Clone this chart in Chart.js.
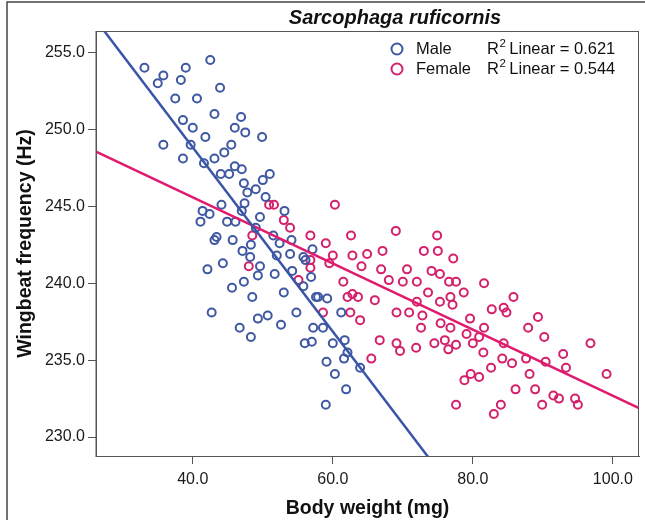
<!DOCTYPE html>
<html>
<head>
<meta charset="utf-8">
<title>Sarcophaga ruficornis</title>
<script src="https://cdn.jsdelivr.net/npm/chart.js@4.4.1/dist/chart.umd.min.js"></script>
<style>
  html, body { margin: 0; padding: 0; background: #fff; }
  #wrap { width: 645px; height: 520px; }
</style>
</head>
<body>
<div id="wrap"><canvas id="wingChart" width="645" height="520"></canvas></div>
<script>
// Datos (peso corporal en mg, frecuencia en Hz)
const maleWeight = [33.1, 35.8, 35.0, 39.0, 38.3, 42.5, 43.9, 37.5, 40.6, 43.1, 46.9, 38.6, 40.0, 46.0, 47.5, 41.8, 49.9, 35.8, 39.7, 45.5,
  44.5, 38.6, 43.1, 41.6, 46.0, 47.0, 44.0, 45.2, 51.0, 50.0, 47.3, 49.0, 47.8, 50.4, 47.4, 44.1, 41.4, 42.4, 47.0, 49.6,
  41.1, 44.9, 46.1, 53.1, 49.0, 51.5, 43.4, 43.1, 45.7, 48.3, 52.4, 54.1, 47.1, 48.2, 52.0, 53.9, 57.1, 55.8, 56.1, 42.1,
  44.3, 49.6, 49.3, 51.7, 54.2, 56.9, 47.3, 45.6, 55.8, 53.0, 48.5, 57.6, 57.9, 59.2, 61.2, 54.8, 42.7, 50.7, 49.3, 52.6,
  46.7, 57.2, 58.6, 48.3, 56.0, 57.0, 60.0, 61.7, 62.1, 61.6, 59.1, 63.9, 60.3, 61.9, 59.0];
const maleFreq = [254.0, 253.5, 253.0, 254.0, 253.2, 254.5, 252.7, 252.0, 252.0, 251.0, 250.8, 250.6, 250.1, 250.1, 249.8, 249.5, 249.5, 249.0, 249.0, 249.0,
  248.5, 248.1, 248.1, 247.8, 247.6, 247.4, 247.1, 247.1, 247.1, 246.7, 246.5, 246.1, 245.9, 245.6, 245.2, 245.1, 244.7, 244.5, 244.7, 244.3,
  244.0, 244.0, 244.0, 244.7, 243.6, 243.1, 243.0, 242.8, 242.8, 242.5, 242.6, 242.8, 242.1, 241.7, 241.8, 241.9, 242.2, 241.7, 241.5, 240.9,
  241.3, 241.1, 240.5, 240.6, 240.8, 240.4, 240.1, 239.7, 239.8, 239.4, 239.1, 239.1, 239.1, 239.0, 238.1, 238.1, 238.1, 237.9, 237.7, 237.3,
  237.1, 237.1, 237.1, 236.5, 236.1, 236.2, 236.1, 236.3, 235.5, 235.1, 234.9, 234.5, 234.1, 233.1, 232.1];

const femaleWeight = [50.9, 51.6, 60.3, 53.0, 53.9, 48.5, 56.8, 62.6, 69.0, 59.0, 56.8, 60.0, 62.8, 64.9, 67.1, 73.0, 48.0, 56.8, 59.5, 64.1,
  66.9, 70.6, 68.0, 70.0, 72.0, 61.5, 55.1, 62.1, 62.8, 63.6, 66.0, 72.0, 73.6, 58.6, 62.5, 63.9, 69.1, 70.9, 72.8, 72.6,
  66.7, 69.1, 69.6, 71.9, 65.5, 74.9, 75.0, 77.2, 74.1, 75.3, 76.6, 77.6, 81.6, 78.7, 75.3, 76.8, 77.1, 85.8, 82.7, 84.4,
  84.8, 79.6, 89.3, 75.4, 76.8, 81.6, 87.9, 90.2, 79.1, 80.9, 80.0, 84.4, 74.5, 76.0, 76.5, 77.6, 81.5, 92.9, 96.8, 84.2,
  85.6, 87.6, 90.4, 82.6, 93.3, 99.1, 88.1, 79.7, 78.8, 80.9, 86.1, 88.9, 91.5, 92.3, 94.6, 95.0, 77.6, 84.0, 89.9, 83.0];
const femaleFreq = [245.1, 245.1, 245.1, 244.1, 243.6, 243.1, 243.1, 243.1, 243.4, 242.6, 241.5, 241.8, 241.8, 241.9, 242.1, 242.1, 241.1, 241.0, 241.3, 241.1,
  240.9, 240.9, 240.2, 240.1, 240.1, 240.1, 240.2, 239.1, 239.3, 239.1, 238.9, 238.8, 239.4, 238.1, 238.1, 237.6, 238.1, 238.1, 237.9, 237.1,
  236.3, 236.1, 235.6, 235.8, 235.1, 243.1, 242.1, 241.6, 240.8, 240.6, 240.1, 240.1, 240.0, 239.4, 238.8, 239.1, 238.6, 239.1, 238.3, 238.4,
  238.1, 237.7, 237.8, 237.4, 237.1, 237.1, 237.1, 236.5, 236.7, 236.5, 236.1, 236.1, 236.1, 236.3, 235.7, 236.0, 235.5, 235.4, 236.1, 235.1,
  234.8, 235.1, 234.9, 234.5, 234.5, 234.1, 234.1, 234.1, 233.7, 233.9, 233.1, 233.1, 232.7, 232.5, 232.5, 232.1, 232.1, 232.1, 232.1, 231.5];

// Rectas de ajuste (Male, Female) y R² de la leyenda
const seriesNames = ["Male", "Female"];
const fitIntercepts = [272.76, 254.18];
const fitSlopes = [-0.5984, -0.2150];
const rSquared = [0.621, 0.544];

// Ejes
const xRange = [26.18, 103.73];
const yRange = [228.77, 256.39];
const xTicks = [40, 60, 80, 100];
const yTicks = [230, 235, 240, 245, 250, 255];

const chartTitle = "Sarcophaga ruficornis";
const pointColors = ["#3F58A2", "#D4216C"];
const lineColors = ["#3A55A8", "#E01B6D"];
const FONT = '"Liberation Sans", Arial, Helvetica, sans-serif';

const toPoints = (xs, ys) => xs.map((x, i) => ({ x, y: ys[i] }));
const fitLine = i => xRange.map(x => ({ x, y: fitIntercepts[i] + fitSlopes[i] * x }));

// Marco, título y leyenda dibujados a mano
const extras = {
    id: "extras",
    afterDraw(chart) {
        const { ctx, chartArea: a } = chart;
        ctx.save();
        ctx.strokeStyle = "#444";
        ctx.lineWidth = 1.5;
        ctx.beginPath();
        ctx.moveTo(7, 520); ctx.lineTo(7, 2); ctx.lineTo(645, 2);
        ctx.stroke();

        ctx.lineWidth = 1;
        ctx.strokeStyle = "#555";
        ctx.strokeRect(a.left, a.top + 0.5, a.right - a.left - 0.5, a.bottom - a.top);

        ctx.fillStyle = "#111";
        ctx.textAlign = "center";
        ctx.textBaseline = "middle";
        ctx.font = "italic bold 20px " + FONT;
        ctx.fillText(chartTitle, 395, 18);

        seriesNames.forEach((name, i) => {
            const y = 49 + i * 20;
            ctx.beginPath();
            ctx.arc(397, y, 5.5, 0, Math.PI * 2);
            ctx.strokeStyle = pointColors[i];
            ctx.lineWidth = 2;
            ctx.stroke();

            ctx.fillStyle = "#111";
            ctx.textAlign = "left";
            ctx.font = "16.5px " + FONT;
            ctx.fillText(name, 416, y);
            ctx.fillText("R", 487, y);
            let x = 487 + ctx.measureText("R").width + 0.5;
            ctx.font = "11.5px " + FONT;
            ctx.fillText("2", x, y - 5);
            x += ctx.measureText("2").width + 3.5;
            ctx.font = "16.5px " + FONT;
            ctx.fillText("Linear = " + rSquared[i].toFixed(3), x, y);
        });
        ctx.restore();
    }
};

const ejeComun = (min, max, ticks) => ({
    type: "linear",
    min, max,
    afterBuildTicks: scale => { scale.ticks = ticks.map(v => ({ value: v })); },
    ticks: {
        callback: v => Number(v).toFixed(1),
        color: "#1a1a1a",
        font: { family: FONT, size: 16 }
    },
    grid: { drawOnChartArea: false, drawTicks: true, tickLength: 8, color: "#555", tickColor: "#555" },
    border: { display: true, color: "#555", width: 1 }
});

const ejeX = ejeComun(xRange[0], xRange[1], xTicks);
ejeX.ticks.padding = 6;
ejeX.ticks.maxRotation = 0;
ejeX.title = { display: true, text: "Body weight (mg)", color: "#111", font: { family: FONT, size: 19.5, weight: "bold" }, padding: { top: 0, bottom: 0 } };
ejeX.afterFit = scale => { scale.height = 64; };

const ejeY = ejeComun(yRange[0], yRange[1], yTicks);
ejeY.ticks.padding = 3;
ejeY.title = { display: true, text: "Wingbeat frequency (Hz)", color: "#111", font: { family: FONT, size: 19.5, weight: "bold" }, padding: { top: 14, bottom: 0 } };
ejeY.afterFit = scale => { scale.width = 96; };

new Chart(document.getElementById("wingChart").getContext("2d"), {
    type: "scatter",
    data: {
        datasets: [
            { label: seriesNames[0], data: toPoints(maleWeight, maleFreq), borderColor: pointColors[0], backgroundColor: "transparent",
              pointRadius: 4, borderWidth: 2, order: 2 },
            { label: seriesNames[1], data: toPoints(femaleWeight, femaleFreq), borderColor: pointColors[1], backgroundColor: "transparent",
              pointRadius: 4, borderWidth: 2, order: 3 },
            { type: "line", label: "fit " + seriesNames[0], data: fitLine(0), borderColor: lineColors[0], borderWidth: 2.5,
              pointRadius: 0, fill: false, clip: 0, order: 0 },
            { type: "line", label: "fit " + seriesNames[1], data: fitLine(1), borderColor: lineColors[1], borderWidth: 2.5,
              pointRadius: 0, fill: false, clip: 0, order: 1 }
        ]
    },
    options: {
        responsive: false,
        animation: false,
        devicePixelRatio: 1,
        layout: { padding: { top: 31, right: 2, left: 0, bottom: 0 } },
        plugins: { legend: { display: false }, tooltip: { enabled: false }, title: { display: false } },
        scales: { x: ejeX, y: ejeY }
    },
    plugins: [extras]
});
</script>
</body>
</html>
